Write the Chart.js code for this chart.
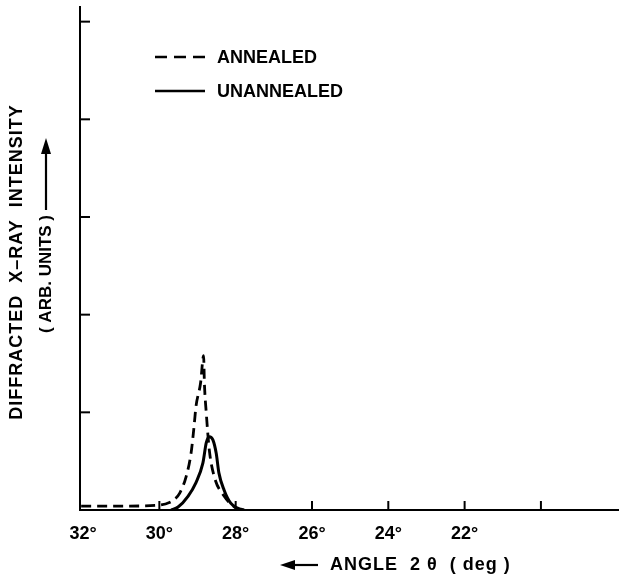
<!DOCTYPE html>
<html>
<head>
<meta charset="utf-8">
<script src="https://cdn.jsdelivr.net/npm/chart.js@4.4.0/dist/chart.umd.min.js"></script>
<style>
  html, body { margin: 0; padding: 0; background: #fff; }
  #wrap { width: 620px; height: 580px; }
</style>
</head>
<body>
<div id="wrap"><canvas id="xrdChart" width="620" height="580"></canvas></div>
<script>
// X-ray diffraction peak, annealed vs unannealed

// Annealed (dashed)
const annealedAngle = [32.05, 31.0, 30.0, 29.72, 29.6, 29.47, 29.30, 29.17, 29.10, 29.04, 28.92, 28.84, 28.82, 28.77, 28.69, 28.56, 28.30, 28.03, 27.86];
const annealedIntensity = [0.04, 0.04, 0.05, 0.08, 0.11, 0.17, 0.34, 0.58, 0.82, 1.06, 1.30, 1.58, 1.30, 0.99, 0.61, 0.34, 0.14, 0.03, 0.0];

// Unannealed (solid)
const unannealedAngle = [29.69, 29.51, 29.25, 29.04, 28.86, 28.77, 28.69, 28.60, 28.51, 28.44, 28.30, 28.13, 27.95, 27.78];
const unannealedIntensity = [0.0, 0.03, 0.14, 0.28, 0.48, 0.69, 0.75, 0.72, 0.58, 0.38, 0.20, 0.07, 0.02, 0.0];

// Axis ticks
const xTickValues = [32, 30, 28, 26, 24, 22, 20];
const xTickLabels = ['32°', '30°', '28°', '26°', '24°', '22°', ''];
const yTickValues = [1, 2, 3, 4, 5];

const seriesNames = ['ANNEALED', 'UNANNEALED'];

const font = '"Liberation Sans", Arial, sans-serif';
const ink = '#000';

function toPoints(xs, ys) {
  return xs.map((x, i) => ({ x: x, y: ys[i] }));
}

// Inward tick marks, legend and axis titles with arrows
const decorPlugin = {
  id: 'decor',
  afterDraw(chart) {
    const ctx = chart.ctx;
    const xs = chart.scales.x;
    const ys = chart.scales.y;
    const area = chart.chartArea;

    ctx.save();
    ctx.strokeStyle = ink;
    ctx.fillStyle = ink;
    ctx.lineWidth = 2;

    // x ticks pointing up
    xTickValues.slice(1).forEach(v => {
      const px = xs.getPixelForValue(v);
      ctx.beginPath();
      ctx.moveTo(px, area.bottom);
      ctx.lineTo(px, area.bottom - 9);
      ctx.stroke();
    });

    // y ticks pointing right
    yTickValues.forEach(v => {
      const py = ys.getPixelForValue(v);
      ctx.beginPath();
      ctx.moveTo(area.left, py);
      ctx.lineTo(area.left + 10, py);
      ctx.stroke();
    });

    // legend
    const legendRows = [57, 91];
    chart.data.datasets.forEach((ds, i) => {
      const y = legendRows[i];
      ctx.lineWidth = 2.4;
      ctx.setLineDash(i === 0 ? [12, 7] : []);
      ctx.beginPath();
      ctx.moveTo(155, y);
      ctx.lineTo(205, y);
      ctx.stroke();
      ctx.setLineDash([]);
      ctx.font = 'bold 18px ' + font;
      ctx.letterSpacing = '0px';
      ctx.textAlign = 'left';
      ctx.textBaseline = 'middle';
      ctx.fillText(ds.label, 217, y + 1);
    });

    // x title with left arrow
    ctx.font = 'bold 18px ' + font;
    ctx.letterSpacing = '1px';
    ctx.textBaseline = 'middle';
    ctx.textAlign = 'left';
    ctx.fillText('ANGLE  2 θ  ( deg )', 330, 565);
    ctx.lineWidth = 2.2;
    ctx.beginPath();
    ctx.moveTo(318, 565);
    ctx.lineTo(290, 565);
    ctx.stroke();
    ctx.beginPath();
    ctx.moveTo(280, 565);
    ctx.lineTo(295, 560);
    ctx.lineTo(295, 570);
    ctx.closePath();
    ctx.fill();

    // y title, rotated
    ctx.save();
    ctx.translate(17, 262);
    ctx.rotate(-Math.PI / 2);
    ctx.textAlign = 'center';
    ctx.fillText('DIFFRACTED  X–RAY  INTENSITY', 0, 0);
    ctx.restore();

    ctx.save();
    ctx.translate(46, 274);
    ctx.rotate(-Math.PI / 2);
    ctx.textAlign = 'center';
    ctx.font = 'bold 17px ' + font;
    ctx.letterSpacing = '0px';
    ctx.fillText('( ARB. UNITS )', 0, 0);
    // arrow pointing up (right in rotated frame)
    ctx.beginPath();
    ctx.moveTo(64, 0);
    ctx.lineTo(124, 0);
    ctx.stroke();
    ctx.beginPath();
    ctx.moveTo(136, 0);
    ctx.lineTo(120, -5);
    ctx.lineTo(120, 5);
    ctx.closePath();
    ctx.fill();
    ctx.restore();

    ctx.restore();
  }
};

new Chart(document.getElementById('xrdChart').getContext('2d'), {
  type: 'line',
  data: {
    datasets: [
      {
        label: seriesNames[0],
        data: toPoints(annealedAngle, annealedIntensity),
        borderColor: ink,
        borderWidth: 2.8,
        borderDash: [10, 6],
        pointRadius: 0,
        fill: false,
        cubicInterpolationMode: 'monotone'
      },
      {
        label: seriesNames[1],
        data: toPoints(unannealedAngle, unannealedIntensity),
        borderColor: ink,
        borderWidth: 3,
        pointRadius: 0,
        fill: false,
        cubicInterpolationMode: 'monotone'
      }
    ]
  },
  options: {
    responsive: false,
    animation: false,
    layout: {
      padding: { top: 7, right: 2, left: 0, bottom: 0 }
    },
    plugins: {
      legend: { display: false },
      tooltip: { enabled: false }
    },
    scales: {
      x: {
        type: 'linear',
        reverse: true,
        min: 17.98,
        max: 32.08,
        afterBuildTicks: (scale) => {
          scale.ticks = xTickValues.map(v => ({ value: v }));
        },
        afterFit: (scale) => {
          scale.height = 70;
        },
        grid: { display: false, drawTicks: false },
        border: { display: true, color: ink, width: 2 },
        ticks: {
          autoSkip: false,
          maxRotation: 0,
          padding: 13,
          color: ink,
          font: { family: font, size: 18, weight: 'bold' },
          callback: (value) => {
            const i = xTickValues.indexOf(value);
            return i >= 0 ? xTickLabels[i] : '';
          }
        }
      },
      y: {
        type: 'linear',
        min: 0,
        max: 5.15,
        afterFit: (scale) => {
          scale.width = 80;
        },
        grid: { display: false, drawTicks: false },
        border: { display: true, color: ink, width: 2 },
        ticks: { display: false }
      }
    }
  },
  plugins: [decorPlugin]
});
</script>
</body>
</html>
